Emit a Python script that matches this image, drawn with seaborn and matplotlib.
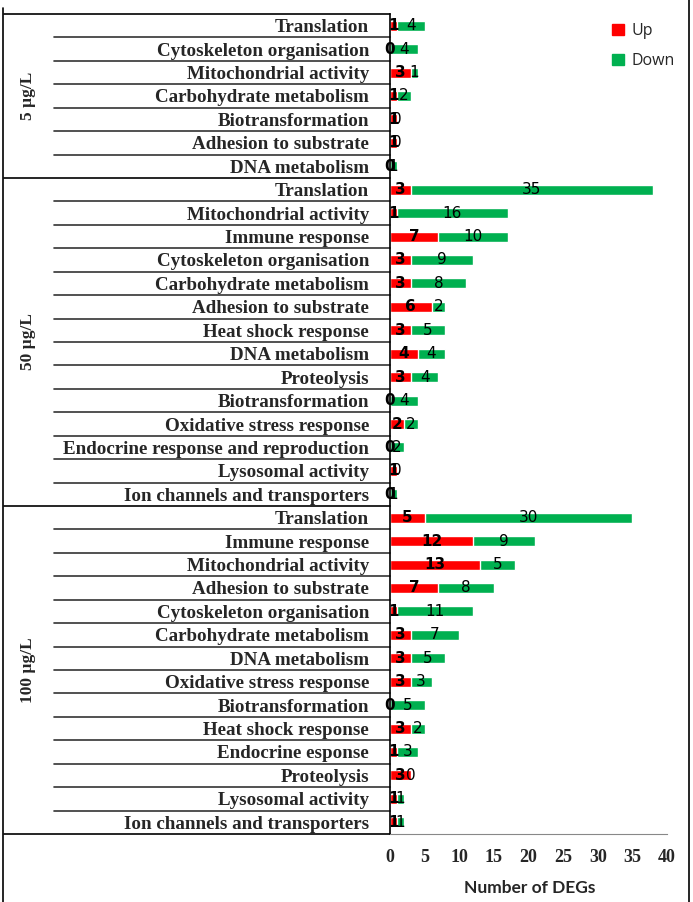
import matplotlib
matplotlib.use("Agg")
import matplotlib.pyplot as plt
from matplotlib.lines import Line2D
from matplotlib.patches import Patch
from matplotlib.transforms import blended_transform_factory
import seaborn as sns
import pandas as pd

# ---- data ----
groups = ["5 µg/L", "50 µg/L", "100 µg/L"]
cats_5 = ["Translation", "Cytoskeleton organisation", "Mitochondrial activity",
          "Carbohydrate metabolism", "Biotransformation", "Adhesion to substrate",
          "DNA metabolism"]
up_5 = [1, 0, 3, 1, 1, 1, 0]
down_5 = [4, 4, 1, 2, 0, 0, 1]

cats_50 = ["Translation", "Mitochondrial activity", "Immune response",
           "Cytoskeleton organisation", "Carbohydrate metabolism", "Adhesion to substrate",
           "Heat shock response", "DNA metabolism", "Proteolysis", "Biotransformation",
           "Oxidative stress response", "Endocrine response and reproduction",
           "Lysosomal activity", "Ion channels and transporters"]
up_50 = [3, 1, 7, 3, 3, 6, 3, 4, 3, 0, 2, 0, 1, 0]
down_50 = [35, 16, 10, 9, 8, 2, 5, 4, 4, 4, 2, 2, 0, 1]

cats_100 = ["Translation", "Immune response", "Mitochondrial activity",
            "Adhesion to substrate", "Cytoskeleton organisation", "Carbohydrate metabolism",
            "DNA metabolism", "Oxidative stress response", "Biotransformation",
            "Heat shock response", "Endocrine esponse", "Proteolysis",
            "Lysosomal activity", "Ion channels and transporters"]
up_100 = [5, 12, 13, 7, 1, 3, 3, 3, 0, 3, 1, 3, 1, 1]
down_100 = [30, 9, 5, 8, 11, 7, 5, 3, 5, 2, 3, 0, 1, 1]

x_ticks = [0, 5, 10, 15, 20, 25, 30, 35, 40]
x_label = "Number of DEGs"
legend_labels = ["Up", "Down"]

RED = "#FF0000"
GREEN = "#00B050"

rows = []
for g, cats, ups, downs in [(groups[0], cats_5, up_5, down_5),
                            (groups[1], cats_50, up_50, down_50),
                            (groups[2], cats_100, up_100, down_100)]:
    for c, u, d in zip(cats, ups, downs):
        rows.append({"group": g, "category": c, "up": u, "down": d,
                     "key": f"{g}|{c}"})
df = pd.DataFrame(rows)
df["total"] = df["up"] + df["down"]
order = list(df["key"])

# ---- figure ----
W, H = 693, 902
fig = plt.figure(figsize=(W / 100, H / 100), dpi=100)
sns.set_style("white")
ax = fig.add_axes([390 / W, (H - 834) / H, (667 - 390) / W, 820 / H])

bw = 0.43
sns.barplot(data=df, x="total", y="key", order=order, orient="h", color=GREEN,
            width=bw, saturation=1, ax=ax, errorbar=None)
sns.barplot(data=df, x="up", y="key", order=order, orient="h", color=RED,
            width=bw, saturation=1, ax=ax, errorbar=None)

ax.set_xlim(0, 40)
ax.set_ylim(len(df) - 0.5, -0.5)
ax.set_xticks(x_ticks)
ax.set_xticklabels([str(t) for t in x_ticks], fontfamily="Liberation Serif",
                   fontweight="bold", fontsize=13)
ax.set_yticks(range(len(df)))
ax.set_yticklabels(df["category"], fontfamily="Liberation Serif",
                   fontweight="bold", fontsize=13.7)
ax.tick_params(axis="y", length=0, pad=15)
ax.tick_params(axis="x", length=4, width=1, color="#888888", pad=7, direction="out")
ax.set_xlabel("")
ax.set_ylabel("")
for s in ["top", "right"]:
    ax.spines[s].set_visible(False)
ax.spines["bottom"].set_color("#888888")
ax.spines["left"].set_color("black")
ax.spines["left"].set_linewidth(1.2)

# value labels
for i, r in df.iterrows():
    ax.text(r["up"] / 2, i, str(r["up"]), ha="center", va="center",
            fontsize=11, fontweight="bold", color="black", fontfamily="DejaVu Sans")
    ax.text(r["up"] + r["down"] / 2, i, str(r["down"]), ha="center", va="center",
            fontsize=11, color="black", fontfamily="DejaVu Sans")

# table lines
tr = blended_transform_factory(fig.transFigure, ax.transData)
starts = [0, len(cats_5), len(cats_5) + len(cats_50), len(df)]
for b in starts:
    ax.plot([4 / W, 390 / W], [b - 0.5, b - 0.5], transform=tr, color="black",
            lw=1.2, clip_on=False)
for gi in range(3):
    for k in range(starts[gi] + 1, starts[gi + 1]):
        ax.plot([54 / W, 390 / W], [k - 0.5, k - 0.5], transform=tr, color="#333333",
                lw=1.2, clip_on=False)
    mid = (starts[gi] + starts[gi + 1] - 1) / 2
    ax.text(28 / W, mid, groups[gi], transform=tr, rotation=90, ha="center",
            va="center", fontfamily="Liberation Serif", fontweight="bold", fontsize=12.5)

# frame borders
fig.add_artist(Line2D([3 / W, 3 / W], [0, 1 - 8 / H], color="black", lw=1.2))
fig.add_artist(Line2D([689 / W, 689 / W], [0, 1], color="black", lw=1.2))

# x label
fig.text(530 / W, 1 - 888 / H, x_label, ha="center", va="center",
         fontfamily="Lato", fontweight="bold", fontsize=12.5)

# legend
handles = [Patch(facecolor=RED, edgecolor=RED), Patch(facecolor=GREEN, edgecolor=GREEN)]
leg = fig.legend(handles, legend_labels, loc="upper left",
                 bbox_to_anchor=(598 / W, 1 - 9 / H), frameon=False,
                 handlelength=0.7, handleheight=0.7, handletextpad=0.5,
                 labelspacing=0.85, prop={"family": "Open Sans", "size": 11.5})

fig.savefig("out.png", dpi=100)
